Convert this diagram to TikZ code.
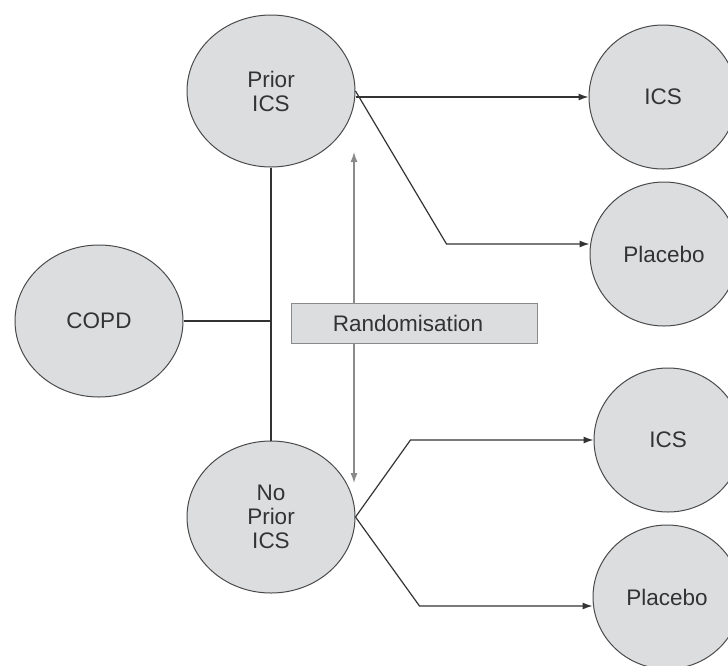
\documentclass[tikz,border=0pt]{standalone}
\usepackage{fontspec}
\setmainfont{Liberation Sans}
\usetikzlibrary{shapes.geometric,arrows.meta}

\definecolor{discfill}{HTML}{DCDDDF}
\definecolor{discline}{HTML}{4A4A4A}
\definecolor{disctext}{HTML}{333333}
\definecolor{randline}{HTML}{8A8A8A}

\tikzset{
  disc/.style={ellipse,draw=discline,fill=discfill,line width=1pt,inner sep=0pt,
    text=disctext,align=center,font=\fontsize{22.5}{24}\selectfont},
  bigdisc/.style={disc,minimum width=168pt,minimum height=152pt},
  armdisc/.style={disc,minimum width=148pt,minimum height=144pt},
  randbox/.style={rectangle,draw=randline,fill=discfill,line width=1pt,
    minimum width=246pt,minimum height=40pt,text=disctext,font=\fontsize{22.5}{24}\selectfont},
  link/.style={draw=disctext,line width=1.2pt},
  arm/.style={link,-{Latex[length=10pt,width=7pt]}}
}

\begin{document}
\begin{tikzpicture}[x=1pt,y=-1pt]
\useasboundingbox (0,0) rectangle (728,665);
\node[bigdisc] (copd) at (99,321) {COPD};
\node[bigdisc] (prior) at (271,91) {Prior\\ICS};
\node[bigdisc] (noprior) at (271,517) {No\\Prior\\ICS};
\node[armdisc] (icsA) at (663,97) {ICS};
\node[armdisc] (placA) at (664,254) {Placebo};
\node[armdisc] (icsB) at (668,440) {ICS};
\node[armdisc] (placB) at (667,597) {Placebo};
\coordinate (junc) at (prior.south |- copd.east);
\coordinate (randtop) at (354,152);
\coordinate (randbot) at (354,483);
\draw[link] (prior.south) -- (noprior.north);
\draw[link] (copd.east) -- (junc);
\draw[draw=randline,line width=1.2pt,{Latex[length=10pt,width=7pt]}-{Latex[length=10pt,width=7pt]}] (randtop) -- (randbot);
\node[randbox] (rand) at (414,323) {\hspace*{-12pt}Randomisation};
\draw[arm] (icsA.west -| prior.east) -- (icsA.west);
\draw[arm] (prior.east) -- ([xshift=-143pt,yshift=10pt]placA.west) -- ([yshift=10pt]placA.west);
\draw[arm] (noprior.east) -- ([xshift=-183pt]icsB.west) -- (icsB.west);
\draw[arm] (noprior.east) -- ([xshift=-173pt,yshift=-9pt]placB.west) -- ([yshift=-9pt]placB.west);
\end{tikzpicture}
\end{document}
